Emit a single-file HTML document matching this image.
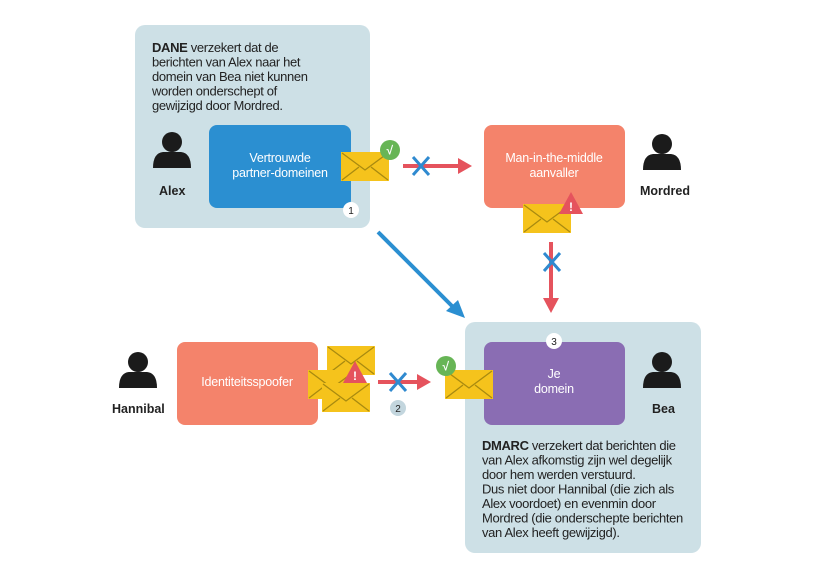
<!DOCTYPE html>
<html><head><meta charset="utf-8"><style>
html,body{margin:0;padding:0;background:#fff;}
svg{display:block;font-family:"Liberation Sans",sans-serif;}
.t{font-size:13px;fill:#222;letter-spacing:-0.35px;}
.w{font-size:12.5px;fill:#fff;letter-spacing:-0.2px;}
.b{font-size:12.5px;font-weight:bold;fill:#222;}
</style></head><body>
<svg width="823" height="581" viewBox="0 0 823 581" xmlns="http://www.w3.org/2000/svg">
<defs>
<g id="p"><circle cx="0" cy="-11" r="10" fill="#1b1b1b"/><path d="M-19 15 Q-19 0 -9 -1 L9 -1 Q19 0 19 15 Z" fill="#1b1b1b"/></g>
<g id="e"><rect x="0" y="0" width="48" height="29" fill="#f5c31c"/><path d="M1 1 L24 18 L47 1 M1 28 L18 15 M47 28 L30 15" stroke="#a88a10" stroke-width="1.3" fill="none"/></g>
<g id="ok"><circle r="10" fill="#67b556"/><text x="-3.5" y="4.5" font-size="12" fill="#fff" font-weight="bold">√</text></g>
<g id="wr"><path d="M0 -12 L12 10 L-12 10 Z" fill="#e5535d"/><text x="-2" y="7" font-size="12" font-weight="bold" fill="#fff">!</text></g>
<g id="x"><path d="M-8 -9 L8 9 M8 -9 L-8 9" stroke="#2f8ad0" stroke-width="3"/></g>
</defs>
<rect x="135" y="25" width="235" height="203" rx="10" fill="#cde0e6"/>
<text class="t" x="152" y="52"><tspan font-weight="bold">DANE</tspan> verzekert dat de</text>
<text class="t" x="152" y="66.5">berichten van Alex naar het</text>
<text class="t" x="152" y="81">domein van Bea niet kunnen</text>
<text class="t" x="152" y="95.5">worden onderschept of</text>
<text class="t" x="152" y="110">gewijzigd door Mordred.</text>
<use href="#p" x="172" y="153"/>
<text class="b" x="159" y="195">Alex</text>
<rect x="209" y="125" width="142" height="83" rx="8" fill="#2b8fd1"/>
<text class="w" x="280" y="162" text-anchor="middle">Vertrouwde</text>
<text class="w" x="280" y="177" text-anchor="middle">partner-domeinen</text>
<circle cx="351" cy="210" r="8" fill="#fff"/><text x="351" y="214" font-size="10" text-anchor="middle" fill="#222">1</text>
<use href="#e" x="341" y="152"/>
<use href="#ok" x="390" y="150"/>
<path d="M403 166 L460 166" stroke="#e5535d" stroke-width="4"/><path d="M472 166 L458 158 L458 174 Z" fill="#e5535d"/>
<use href="#x" x="421" y="166"/>
<rect x="484" y="125" width="141" height="83" rx="8" fill="#f4836b"/>
<text class="w" x="554" y="162" text-anchor="middle">Man-in-the-middle</text>
<text class="w" x="554" y="177" text-anchor="middle">aanvaller</text>
<use href="#p" x="662" y="155"/>
<text class="b" x="640" y="195">Mordred</text>
<use href="#e" x="523" y="204"/>
<use href="#wr" x="571" y="204"/>
<path d="M551 242 L551 300" stroke="#e5535d" stroke-width="4"/><path d="M551 313 L543 298 L559 298 Z" fill="#e5535d"/>
<use href="#x" x="552" y="262"/>
<path d="M378 232 L455 309" stroke="#2b8fd1" stroke-width="4"/><path d="M465 318 L446 311 L458 300 Z" fill="#2b8fd1"/>
<rect x="465" y="322" width="236" height="231" rx="10" fill="#cde0e6"/>
<rect x="484" y="342" width="141" height="83" rx="8" fill="#8a6db3"/>
<text class="w" x="554" y="378" text-anchor="middle">Je</text>
<text class="w" x="554" y="393" text-anchor="middle">domein</text>
<circle cx="554" cy="341" r="8" fill="#fff"/><text x="554" y="345" font-size="10" text-anchor="middle" fill="#222">3</text>
<use href="#p" x="662" y="373"/>
<text class="b" x="652" y="413">Bea</text>
<text class="t" x="482" y="450"><tspan font-weight="bold">DMARC</tspan> verzekert dat berichten die</text>
<text class="t" x="482" y="464.5">van Alex afkomstig zijn wel degelijk</text>
<text class="t" x="482" y="479">door hem werden verstuurd.</text>
<text class="t" x="482" y="493.5">Dus niet door Hannibal (die zich als</text>
<text class="t" x="482" y="508">Alex voordoet) en evenmin door</text>
<text class="t" x="482" y="522.5">Mordred (die onderschepte berichten</text>
<text class="t" x="482" y="537">van Alex heeft gewijzigd).</text>
<use href="#p" x="138" y="373"/>
<text class="b" x="112" y="413">Hannibal</text>
<rect x="177" y="342" width="141" height="83" rx="8" fill="#f4836b"/>
<text class="w" x="247" y="386" text-anchor="middle">Identiteitsspoofer</text>
<use href="#e" x="327" y="346"/>
<use href="#e" x="308" y="370"/>
<use href="#e" x="322" y="383"/>
<use href="#wr" x="355" y="373"/>
<path d="M378 382 L420 382" stroke="#e5535d" stroke-width="4"/><path d="M431 382 L417 374 L417 390 Z" fill="#e5535d"/>
<use href="#x" x="398" y="382"/>
<circle cx="398" cy="408" r="8" fill="#c3d6de"/><text x="398" y="412" font-size="10" text-anchor="middle" fill="#222">2</text>
<use href="#e" x="445" y="370"/>
<use href="#ok" x="446" y="366"/>
</svg>
</body></html>
